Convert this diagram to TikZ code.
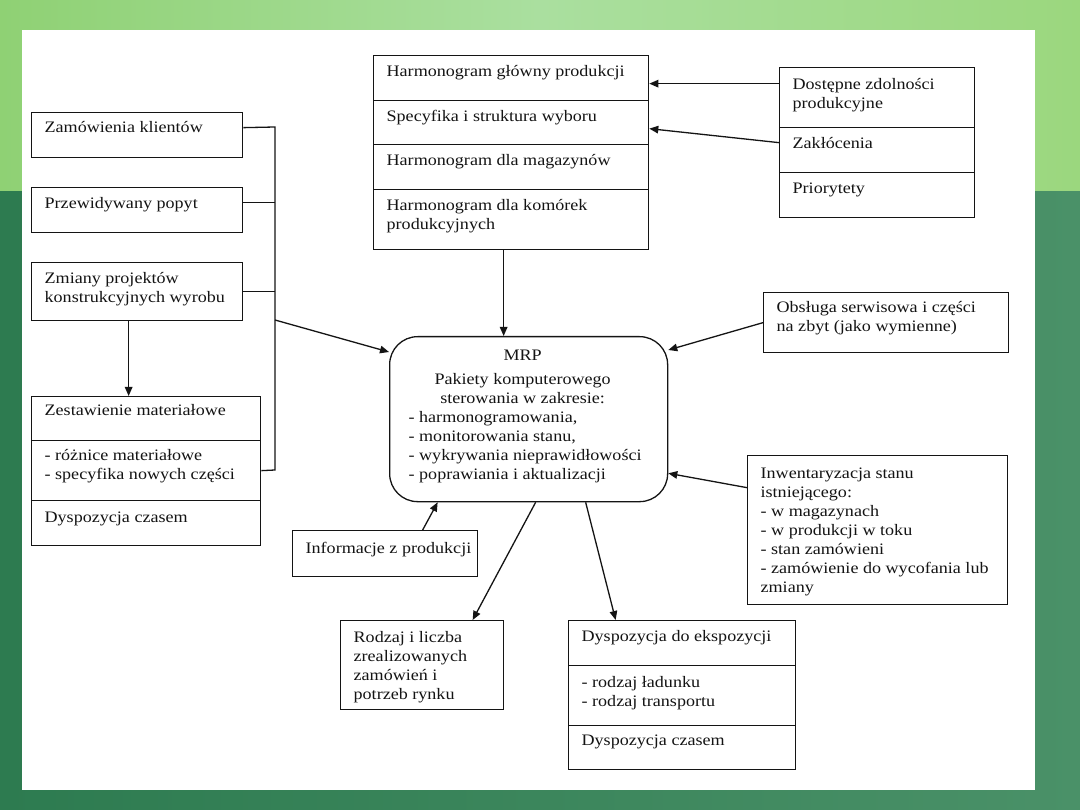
\documentclass[tikz,border=0pt]{standalone}
\usepackage{fontspec}
\setmainfont[FakeStretch=1.13]{Liberation Serif}
\usetikzlibrary{arrows.meta,calc}
\definecolor{lgL}{HTML}{8FD174}
\definecolor{lgM}{HTML}{AADF9F}
\definecolor{lgR}{HTML}{9BD77E}
\definecolor{dgL}{HTML}{2D7B50}
\definecolor{dgR}{HTML}{4A9168}
\definecolor{ink}{HTML}{141414}
\newcommand\cellt[4]{\parbox[c][#2][t]{#1}{\rule{0pt}{#3}\hspace*{13pt}\begin{tabular}[t]{@{}l@{}}#4\end{tabular}}}
\tikzset{
  cell/.style={draw=ink, line width=1.3pt, inner sep=0pt, anchor=north west, text=ink},
  mrpbox/.style={draw=ink, line width=1.3pt, inner sep=0pt, anchor=north west, rounded corners=28pt, text=ink},
  conn/.style={draw=ink, line width=1.3pt},
  arr/.style={conn, -{Triangle[length=9pt,width=7.5pt]}}
}
\begin{document}
\begin{tikzpicture}[x=1pt,y=-1pt,font=\fontsize{16}{19}\selectfont]
\useasboundingbox (0,0) rectangle (1080,810);
% background
\shade[left color=lgL, right color=lgR, middle color=lgM] (0,0) rectangle (1080,192);
\shade[left color=dgL, right color=dgR] (0,192) rectangle (1080,810);
\fill[white] (22,30) rectangle (1035,790);

% left column
\node[cell] (zam) at (31,112) {\cellt{211pt}{45pt}{20pt}{Zamówienia klientów}};
\node[cell] (przew) at (31,187) {\cellt{211pt}{45pt}{21pt}{Przewidywany popyt}};
\node[cell] (zmiany) at (31,262) {\cellt{211pt}{58pt}{21pt}{Zmiany projektów\\konstrukcyjnych wyrobu}};
\node[cell] (zest1) at (31,396) {\cellt{229pt}{44pt}{19pt}{Zestawienie materiałowe}};
\node[cell] (zest2) at (31,440) {\cellt{229pt}{60pt}{20pt}{- różnice materiałowe\\- specyfika nowych części}};
\node[cell] (zest3) at (31,500) {\cellt{229pt}{45pt}{22pt}{Dyspozycja czasem}};

% top stack
\node[cell] (hgp) at (373,55) {\cellt{275pt}{45pt}{21pt}{Harmonogram główny produkcji}};
\node[cell] (spec) at (373,100) {\cellt{275pt}{44pt}{21pt}{Specyfika i struktura wyboru}};
\node[cell] (hmag) at (373,144) {\cellt{275pt}{45pt}{21pt}{Harmonogram dla magazynów}};
\node[cell] (hk) at (373,189) {\cellt{275pt}{60pt}{21pt}{Harmonogram dla komórek\\produkcyjnych}};

% right stack
\node[cell] (dost) at (779,67) {\cellt{195pt}{60pt}{22pt}{Dostępne zdolności\\produkcyjne}};
\node[cell] (zak) at (779,127) {\cellt{195pt}{45pt}{21pt}{Zakłócenia}};
\node[cell] (prio) at (779,172) {\cellt{195pt}{45pt}{21pt}{Priorytety}};

% right side boxes
\node[cell] (obs) at (763,292) {\cellt{245pt}{60pt}{20pt}{Obsługa serwisowa i części\\na zbyt (jako wymienne)}};
\node[cell] (inw) at (747,455) {\cellt{260pt}{149pt}{23pt}{Inwentaryzacja stanu\\istniejącego:\\- w magazynach\\- w produkcji w toku\\- stan zamówieni\\- zamówienie do wycofania lub\\zmiany}};

% MRP
\node[mrpbox] (mrp) at (389,336) {\parbox[c][165pt][t]{278pt}{\leftskip=0pt plus 1fil\rightskip=12pt plus 1fil\parfillskip=0pt
\rule{0pt}{24pt}MRP\par\vspace{5pt}
Pakiety komputerowego\par
sterowania w zakresie:\par
\leftskip=19pt\rightskip=0pt plus 1fil\parfillskip=0pt plus 1fil
- harmonogramowania,\\
- monitorowania stanu,\\
- wykrywania nieprawidłowości\\
- poprawiania i aktualizacji\par}};

% bottom boxes
\node[cell] (inf) at (292,530) {\cellt{185pt}{46pt}{23pt}{Informacje z produkcji}};
\node[cell] (rodz) at (340,620) {\cellt{163pt}{89pt}{22pt}{Rodzaj i liczba\\zrealizowanych\\zamówień i\\potrzeb rynku}};
\node[cell] (dysp1) at (568,620) {\cellt{227pt}{45pt}{21pt}{Dyspozycja do ekspozycji}};
\node[cell] (dysp2) at (568,665) {\cellt{227pt}{60pt}{22pt}{- rodzaj ładunku\\- rodzaj transportu}};
\node[cell] (dysp3) at (568,725) {\cellt{227pt}{44pt}{20pt}{Dyspozycja czasem}};

% left bus
\coordinate (bt) at (275,127);
\coordinate (bb) at (275,470);
\coordinate (bj) at (275,320);
\draw[conn] ([yshift=7.5pt]zam.east) -- (bt) -- (bb) -- (zest2.east);
\draw[conn] ([yshift=7.5pt]przew.east) -- ([yshift=7.5pt]przew.east -| bt);
\draw[conn] (zmiany.east) -- (zmiany.east -| bt);
\draw[arr] (bj) -- ([yshift=-16pt]mrp.north west);
\draw[arr] ([xshift=-8.5pt]zmiany.south) -- ([xshift=-8.5pt]zmiany.south |- zest1.north);

% top
\draw[arr] ([xshift=-7.5pt]hk.south) -- ([xshift=-7.5pt]hk.south |- mrp.north);
\draw[arr] ([yshift=14pt]dost.west) -- ([yshift=14pt]dost.west -| hgp.east);
\draw[arr] ([yshift=7.5pt]zak.west) -- ([yshift=-6pt]spec.east);

% right
\draw[arr] (obs.west) -- ([yshift=-14pt]mrp.north east);
\draw[arr] ([yshift=42.5pt]inw.west) -- ([yshift=29pt]mrp.south east);

% bottom
\draw[arr] ([xshift=37.5pt]inf.north) -- ([xshift=-91pt]mrp.south);
\draw[arr] ([xshift=7pt]mrp.south) -- ([xshift=50.5pt]rodz.north);
\draw[arr] ([xshift=57pt]mrp.south) -- ([xshift=-66.5pt]dysp1.north);
\end{tikzpicture}
\end{document}
